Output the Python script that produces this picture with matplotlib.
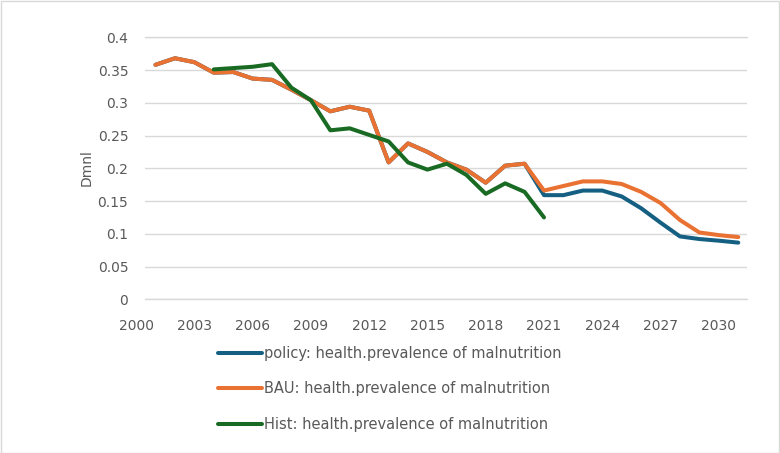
import matplotlib
matplotlib.use("Agg")
import matplotlib.pyplot as plt
import matplotlib.transforms as mtransforms
from matplotlib.patches import Rectangle

years = list(range(2001, 2032))

bau = [0.358, 0.368, 0.362, 0.346, 0.347, 0.337, 0.335, 0.320, 0.304, 0.287,
       0.294, 0.288, 0.209, 0.238, 0.225, 0.209, 0.198, 0.178, 0.204, 0.207,
       0.166, 0.173, 0.180, 0.180, 0.176, 0.164, 0.147, 0.121, 0.102, 0.098,
       0.095]

policy = [0.358, 0.368, 0.362, 0.346, 0.347, 0.337, 0.335, 0.320, 0.304, 0.287,
          0.294, 0.288, 0.209, 0.238, 0.225, 0.209, 0.198, 0.178, 0.204, 0.207,
          0.159, 0.159, 0.166, 0.166, 0.157, 0.139, 0.117, 0.096, 0.092, 0.0895,
          0.0865]

hist_years = list(range(2004, 2022))
hist = [0.351, 0.353, 0.355, 0.359, 0.323, 0.304, 0.258, 0.261, 0.251, 0.241,
        0.209, 0.198, 0.207, 0.190, 0.161, 0.177, 0.164, 0.125]

x_tick_years = [2000, 2003, 2006, 2009, 2012, 2015, 2018, 2021, 2024, 2027, 2030]
x_tick_labels = ["2000", "2003", "2006", "2009", "2012", "2015", "2018", "2021",
                 "2024", "2027", "2030"]
y_ticks = [0, 0.05, 0.1, 0.15, 0.2, 0.25, 0.3, 0.35, 0.4]
y_tick_labels = ["0", "0.05", "0.1", "0.15", "0.2", "0.25", "0.3", "0.35", "0.4"]

labels = ["policy: health.prevalence of malnutrition",
          "BAU: health.prevalence of malnutrition",
          "Hist: health.prevalence of malnutrition"]
colors = ["#156082", "#E97132", "#196B24"]

text_color = "#595959"
grid_color = "#D9D9D9"
plt.rcParams['font.family'] = ["DejaVu Sans"]
fs = 10

fig = plt.figure(figsize=(7.8, 4.53), dpi=100)
ax = fig.add_axes([145/780, 1 - 299.3/453, (747-145)/780, (299.3-37.3)/453])

lw = 2.9
ax.plot(years, policy, color=colors[0], lw=lw, solid_joinstyle='round',
        solid_capstyle='round', label=labels[0], zorder=3)
ax.plot(years, bau, color=colors[1], lw=lw, solid_joinstyle='round',
        solid_capstyle='round', label=labels[1], zorder=4)
ax.plot(hist_years, hist, color=colors[2], lw=lw, solid_joinstyle='round',
        solid_capstyle='round', label=labels[2], zorder=5)

ax.set_xlim(2000.46, 2031.45)
ax.set_ylim(0, 0.4)
ax.set_yticks(y_ticks)
ax.set_yticklabels(y_tick_labels)
ax.set_xticks([])
ax.tick_params(axis='y', length=0, pad=12, labelsize=fs, labelcolor=text_color)
ax.yaxis.grid(True, color=grid_color, lw=1.0)
ax.axhline(0, color=grid_color, lw=1.0, clip_on=False, zorder=0.5)
ax.axhline(0.4, color=grid_color, lw=1.0, clip_on=False, zorder=0.5)
ax.set_axisbelow(True)
for s in ax.spines.values():
    s.set_visible(False)

trans = mtransforms.offset_copy(ax.get_xaxis_transform(), fig=fig, x=0, y=-27,
                                units='dots')
for yr, lab in zip(x_tick_years, x_tick_labels):
    ax.text(yr, 0, lab, transform=trans, ha='center', va='center',
            fontsize=fs, color=text_color, clip_on=False)

fig.text(87/780, 1 - 168/453, "Dmnl", rotation=90, ha='center', va='center',
         fontsize=fs, color=text_color)

leg = fig.legend(loc='upper left', bbox_to_anchor=(218/780, 1 - 346/453),
                 frameon=False, fontsize=10.5, labelcolor=text_color,
                 handlelength=3.0, handletextpad=0.15, labelspacing=1.4,
                 borderpad=0, borderaxespad=0)

fig.patches.append(Rectangle((0.5/780, 0.5/453), 1 - 1.5/780, 1 - 1.5/453,
                             transform=fig.transFigure, fill=False,
                             edgecolor=grid_color, lw=1.0))

fig.savefig("out.png", dpi=100, facecolor="white")
